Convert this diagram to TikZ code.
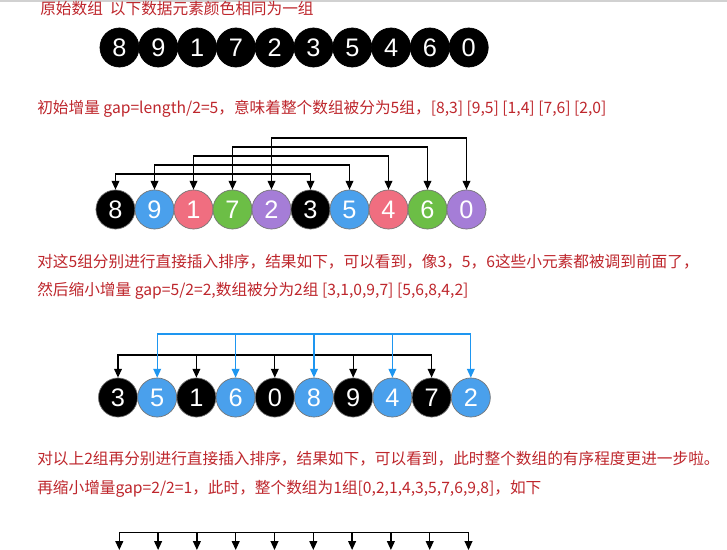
\documentclass[tikz,border=0pt]{standalone}
\usepackage{fontspec}
\setmainfont{Noto Sans CJK SC}
\newfontfamily\digitfont{Liberation Sans}
\usetikzlibrary{arrows.meta}
\definecolor{txtred}{RGB}{190,38,44}
\definecolor{cblack}{RGB}{0,0,0}
\definecolor{cblue}{RGB}{74,160,236}
\definecolor{cpink}{RGB}{240,110,128}
\definecolor{cgreen}{RGB}{108,190,70}
\definecolor{cpurple}{RGB}{165,125,215}
\definecolor{arrblue}{RGB}{30,150,240}
\tikzset{
  ball/.style={circle, minimum size=29.3pt, inner sep=0pt, draw=black!55, line width=0.5pt,
    text=white, font=\digitfont\fontsize{19}{19}\selectfont},
  txt/.style={anchor=base west, inner sep=0pt, text=txtred, font=\fontsize{11.75}{14}\selectfont},
  conn/.style={line width=1pt, line join=miter},
  arr/.style={conn, -{Triangle[length=6.6pt,width=5.8pt]}},
  dblarr/.style={conn, {Triangle[length=6.6pt,width=5.8pt]}-{Triangle[length=6.6pt,width=5.8pt]}}
}
\begin{document}
\begin{tikzpicture}[x=0.75pt,y=-0.75pt]
\useasboundingbox (0,0) rectangle (727,549);
\clip (0,0) rectangle (727,549);
\fill[white] (0,0) rectangle (727,549);
\draw[black!18, line width=1.2pt] (0,0.8) -- (727,0.8);

% texts
\node[txt] (t1) at (40,15) {原始数组\hspace{0.45em}以下数据元素颜色相同为一组};
\node[txt] (t2) at (37,114) {初始增量 gap=length/2=5，意味着整个数组被分为5组，[8,3] [9,5] [1,4] [7,6] [2,0]};
\node[txt] (t3) at (37,267) {对这5组分别进行直接插入排序，结果如下，可以看到，像3，5，6这些小元素都被调到前面了，};
\node[txt] (t4) at (37,295) {然后缩小增量 gap=5/2=2,数组被分为2组 [3,1,0,9,7] [5,6,8,4,2]};
\node[txt] (t5) at (37,464) {对以上2组再分别进行直接插入排序，结果如下，可以看到，此时整个数组的有序程度更进一步啦。};
\node[txt] (t6) at (37,493) {再缩小增量gap=2/2=1，此时，整个数组为1组[0,2,1,4,3,5,7,6,9,8]，如下};

% row 1
\foreach \d [count=\i] in {8,9,1,7,2,3,5,4,6,0}
  \node[ball, fill=cblack, draw=cblack] (r1-\i) at ({119.5+38.8*(\i-1)},47.5) {\d};

% row 2
\foreach \d/\c [count=\i] in {8/cblack,9/cblue,1/cpink,7/cgreen,2/cpurple,3/cblack,5/cblue,4/cpink,6/cgreen,0/cpurple}
  \node[ball, fill=\c] (r2-\i) at ({115.5+39*(\i-1)},209.5) {\d};

\foreach \a/\b/\l in {1/6/174, 2/7/165, 3/8/156, 4/9/147, 5/10/138} {
  \coordinate (lv\a) at (0,\l);
  \draw[dblarr] (r2-\a.north) -- (r2-\a.north |- lv\a) -- (r2-\b.north |- lv\a) -- (r2-\b.north);
}

% row 3
\foreach \d/\c [count=\i] in {3/cblack,5/cblue,1/cblack,6/cblue,0/cblack,8/cblue,9/cblack,4/cblue,7/cblack,2/cblue}
  \node[ball, fill=\c] (r3-\i) at ({118+39.2*(\i-1)},397.5) {\d};

\coordinate (bk) at (0,355);
\coordinate (bl) at (0,334);
\draw[dblarr] (r3-1.north) -- (r3-1.north |- bk) -- (r3-9.north |- bk) -- (r3-9.north);
\foreach \i in {3,5,7}
  \draw[arr] (r3-\i.north |- bk) -- (r3-\i.north);
\draw[dblarr, arrblue] (r3-2.north) -- (r3-2.north |- bl) -- (r3-10.north |- bl) -- (r3-10.north);
\foreach \i in {4,6,8}
  \draw[arr, arrblue] (r3-\i.north |- bl) -- (r3-\i.north);

% row 4 (cut off)
\foreach \i in {1,...,10}
  \coordinate (b\i) at ({119.3+38.8*(\i-1)},550);
\coordinate (bt) at (0,532.7);
\draw[dblarr] (b1) -- (b1 |- bt) -- (b10 |- bt) -- (b10);
\foreach \i in {2,...,9}
  \draw[arr] (b\i |- bt) -- (b\i);
\end{tikzpicture}
\end{document}
